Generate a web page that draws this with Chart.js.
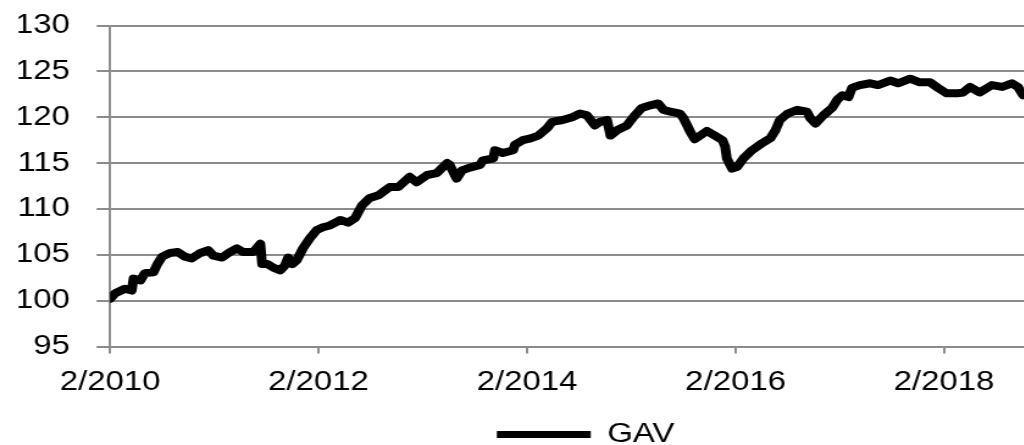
<!DOCTYPE html>
<html>
<head>
<meta charset="utf-8">
<script src="https://cdn.jsdelivr.net/npm/chart.js@4/dist/chart.umd.min.js"></script>
<style>
  html, body { margin: 0; padding: 0; background: #fff; overflow: hidden; }
  #wrap { width: 960px; height: 458px; transform: scaleX(1.22); transform-origin: 0 0; }
</style>
</head>
<body>
<div id="wrap"><canvas id="gav_chart" width="960" height="458"></canvas></div>
<script>
// months since 2/2010
const months = [
  0, 0.6, 1.7, 2.5, 2.7, 3.5, 4.0, 5.0, 5.4, 6.0, 6.9, 7.8, 8.6, 9.4, 10.4, 11.3, 11.9, 12.9, 13.8, 14.6,
  15.3, 16.5, 17.3, 17.5, 18.1, 18.8, 19.6, 20.1, 20.5, 21.0, 21.5, 22.2, 23.0, 23.8, 24.5, 25.3, 26.1, 26.5,
  27.4, 28.2, 29.0, 29.9, 30.9, 32.2, 33.2, 34.5, 35.3, 36.5, 37.6, 38.8, 39.1, 39.9, 40.5, 41.4, 42.6, 42.9,
  44.1, 44.3, 45.2, 46.4, 46.6, 47.5, 48.4, 49.3, 50.3, 50.9, 52.1, 53.2, 54.1, 54.9, 55.8, 56.4, 57.2, 57.6,
  58.4, 59.5, 60.4, 61.2, 62.2, 63.1, 63.7, 64.5, 65.6, 66.0, 66.8, 67.3, 68.7, 69.6, 70.5, 70.8, 71.0, 71.6,
  72.2, 72.9, 73.9, 75.1, 76.0, 76.6, 77.1, 78.0, 79.1, 80.2, 80.6, 81.2, 82.1, 83.1, 83.7, 84.3, 85.0, 85.4,
  86.3, 87.5, 88.4, 89.8, 90.7, 92.1, 93.2, 94.4, 95.3, 96.3, 97.5, 98.2, 99.0, 100.1, 101.5, 102.7, 103.8,
  104.5, 105.1
];
const gav = [
  100.2, 100.8, 101.3, 101.1, 102.4, 102.2, 103.0, 103.1, 103.9, 104.8, 105.2, 105.3, 104.8, 104.6, 105.2, 105.5, 104.9, 104.7, 105.3, 105.7,
  105.3, 105.3, 106.2, 104.0, 104.0, 103.6, 103.3, 103.8, 104.7, 104.0, 104.4, 105.7, 106.8, 107.7, 108.0, 108.2, 108.6, 108.8,
  108.5, 109.0, 110.4, 111.2, 111.5, 112.4, 112.4, 113.5, 112.9, 113.7, 113.9, 115.0, 114.8, 113.3, 114.2, 114.5, 114.8, 115.3,
  115.5, 116.4, 116.1, 116.4, 117.0, 117.5, 117.7, 118.0, 118.8, 119.5, 119.7, 120.0, 120.4, 120.2, 119.1, 119.5, 119.7, 118.0,
  118.6, 119.1, 120.2, 121.0, 121.3, 121.5, 120.8, 120.6, 120.4, 119.9, 118.4, 117.6, 118.5, 118.0, 117.5, 116.8, 115.5, 114.4,
  114.6, 115.5, 116.4, 117.2, 117.7, 118.6, 119.7, 120.4, 120.8, 120.6, 119.9, 119.3, 120.2, 121.0, 121.9, 122.4, 122.2, 123.2,
  123.5, 123.7, 123.5, 124.0, 123.7, 124.2, 123.8, 123.8, 123.2, 122.6, 122.6, 122.7, 123.3, 122.7, 123.5, 123.3, 123.7,
  123.3, 122.4
];
const startYear = 2010;
const startMonth = 2;
const yMin = 95, yMax = 130, yStep = 5;

const gridGray = "#8c8c8c";
const tickFont = { family: "'Liberation Sans', Arial, sans-serif", size: 27 };

const points = months.map((m, i) => ({ x: m, y: gav[i] }));

new Chart(document.getElementById("gav_chart").getContext("2d"), {
  type: "line",
  data: {
    datasets: [{
      label: "GAV",
      data: points,
      borderColor: "#000",
      backgroundColor: "#000",
      borderWidth: 8,
      pointRadius: 0,
      tension: 0,
      borderJoinStyle: "round",
      borderCapStyle: "round",
    }],
  },
  options: {
    responsive: false,
    animation: false,
    layout: { padding: { left: 15.3, right: 15.3, top: 25.5, bottom: 0 } },
    scales: {
      x: {
        type: "linear",
        min: 0,
        max: 120,
        grid: { drawOnChartArea: false, drawTicks: true, tickLength: 7, color: gridGray, lineWidth: 2 },
        border: { display: true, color: gridGray, width: 2 },
        ticks: {
          stepSize: 24,
          includeBounds: false,
          padding: 12.5,
          color: "#000",
          font: tickFont,
          maxRotation: 0,
          callback: (v) => startMonth + "/" + (startYear + v / 12),
        },
        afterBuildTicks: (axis) => {
          axis.ticks = axis.ticks.filter((t) => t.value <= months[months.length - 1]);
        },
        afterFit: (axis) => { axis.height = 73.5; },
      },
      y: {
        min: yMin,
        max: yMax,
        grid: { color: gridGray, lineWidth: 2, tickLength: 11 },
        border: { display: true, color: gridGray, width: 2 },
        ticks: { stepSize: yStep, padding: 22, color: "#000", font: tickFont },
        afterFit: (axis) => {
          axis.width = 74.9;
          axis.paddingTop = 0;
          axis.paddingBottom = 0;
        },
      },
    },
    plugins: {
      legend: {
        position: "bottom",
        labels: {
          color: "#000",
          font: tickFont,
          boxWidth: 77,
          boxHeight: 7,
          padding: 1,
          generateLabels: () => [{
            text: "GAV",
            fillStyle: "#000",
            strokeStyle: "#000",
            lineWidth: 0,
            datasetIndex: 0,
          }],
        },
      },
      tooltip: { enabled: false },
    },
  },
});
</script>
</body>
</html>
